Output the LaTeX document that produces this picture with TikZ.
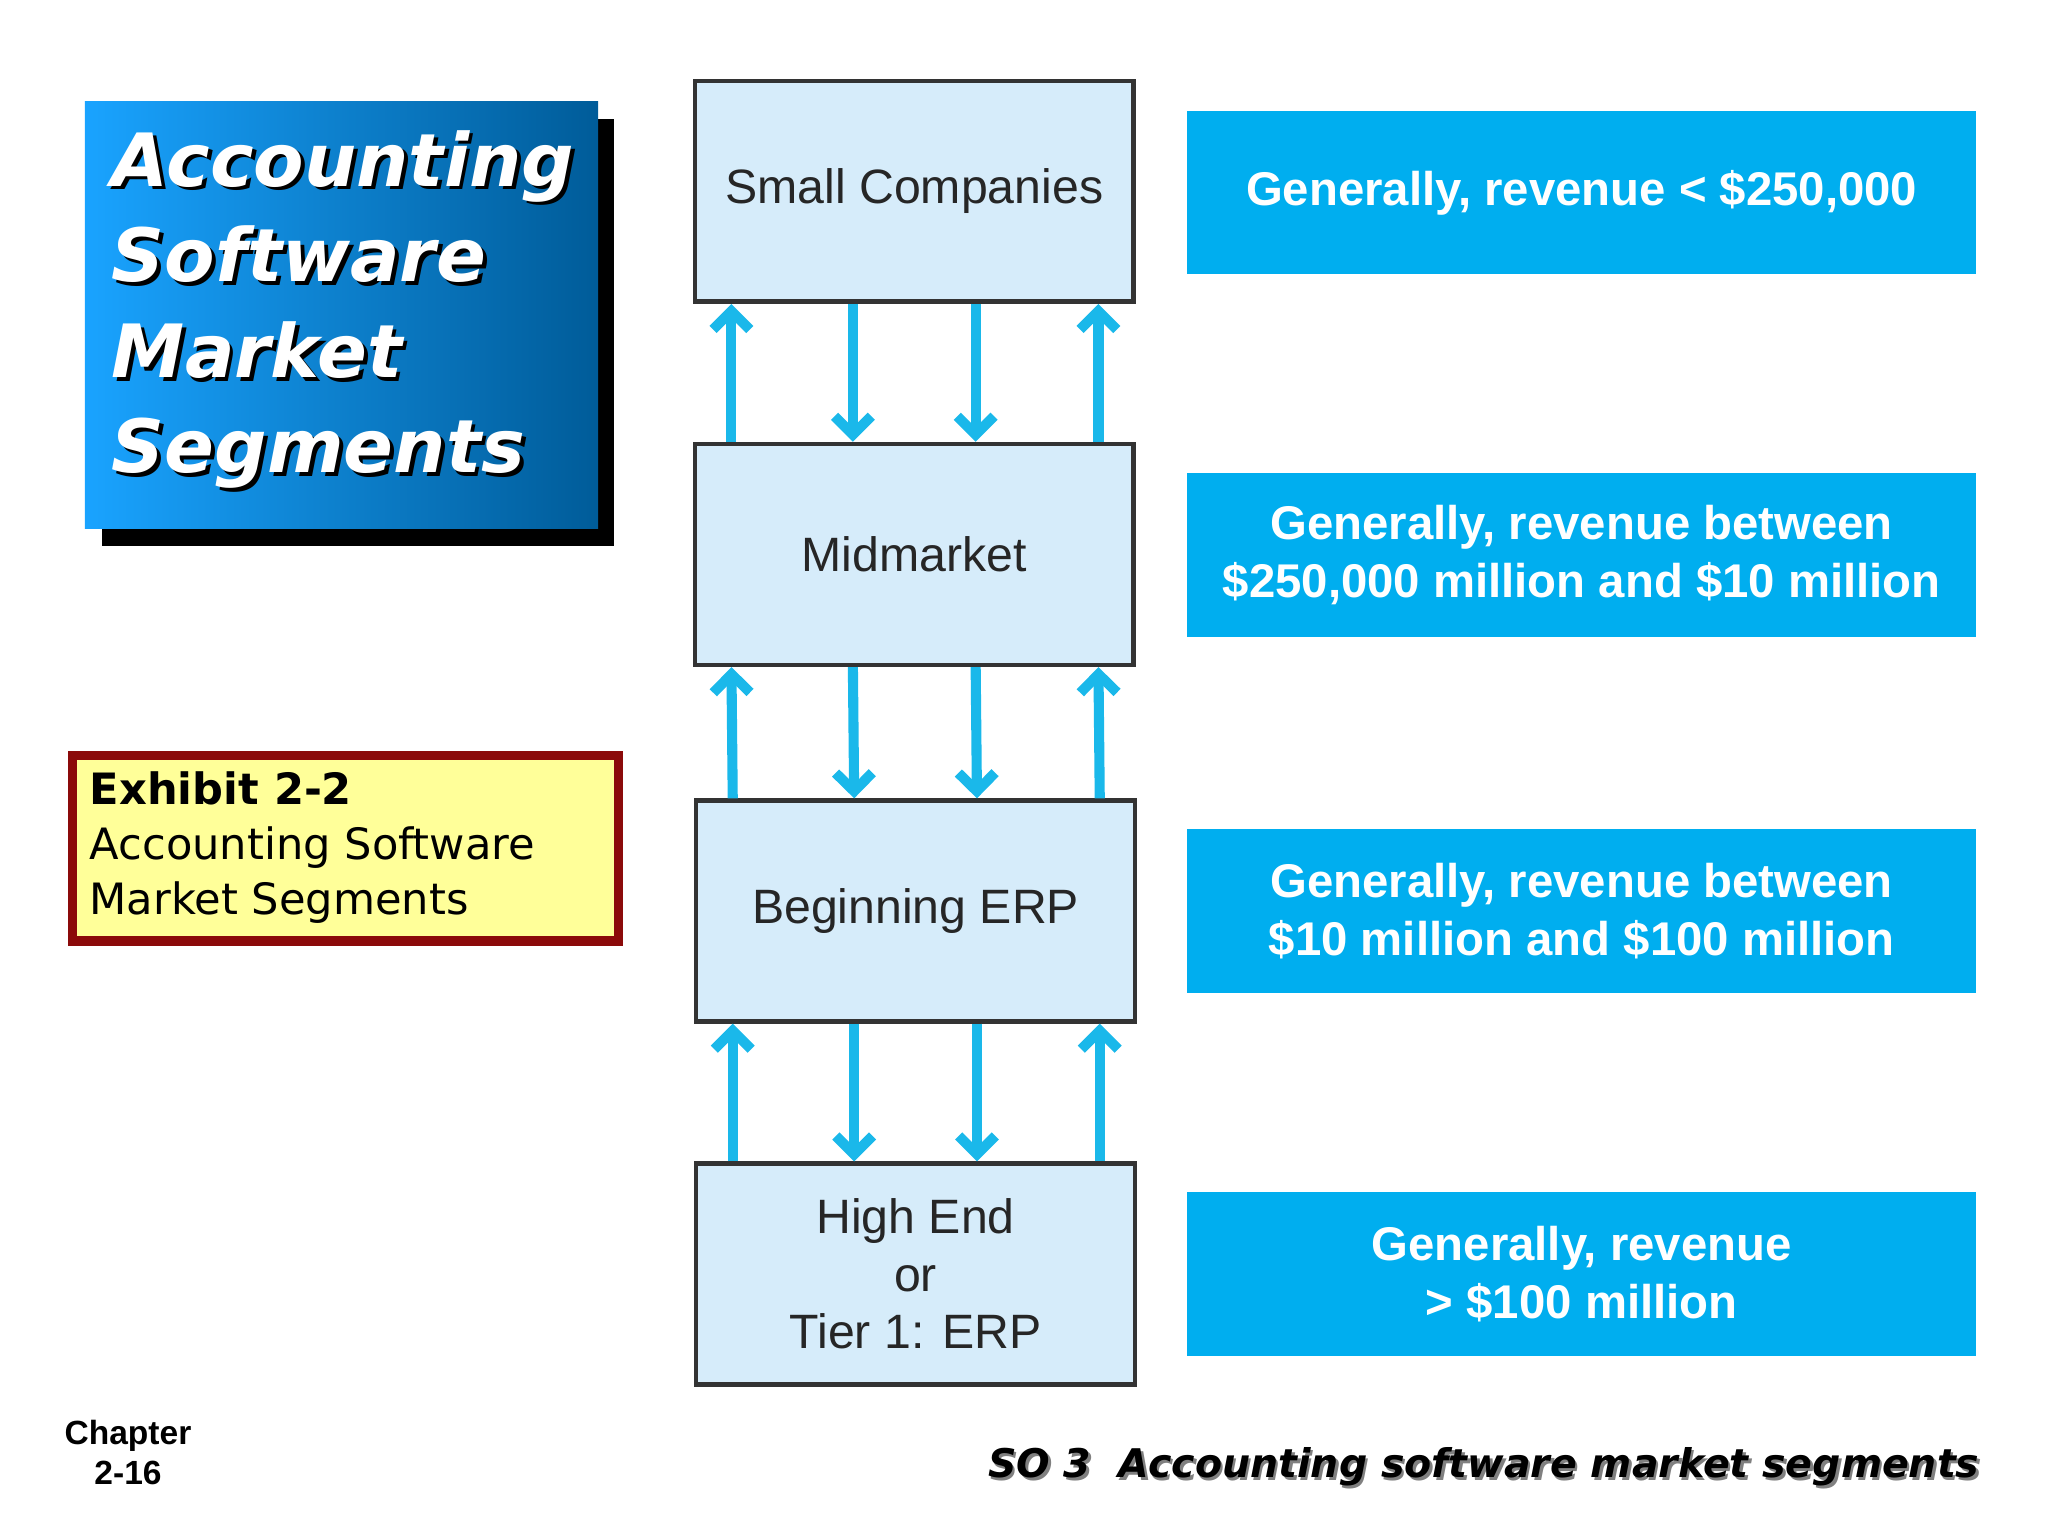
\documentclass[tikz,border=0pt]{standalone}
\usepackage{fontspec}
\setmainfont{Liberation Sans}
\newfontfamily\comic{DejaVu Sans}
\usetikzlibrary{arrows.meta}
\definecolor{seg}{HTML}{D6ECFA}
\definecolor{arr}{HTML}{1AB8EA}
\definecolor{rbox}{HTML}{00AEEF}
\definecolor{exb}{HTML}{FFFF99}
\definecolor{exr}{HTML}{8B0A0A}
\newlength{\pxu}\setlength{\pxu}{0.01cm}
\tikzset{
 segbox/.style={draw=black!80,line width=1pt,fill=seg,minimum width=336\pxu,minimum height=169\pxu,inner sep=1pt,align=center,font=\fontsize{10.5}{12.5}\selectfont,text=black!85},
 revbox/.style={fill=rbox,minimum width=604\pxu,minimum height=125\pxu,inner sep=1pt,align=center,text=white,font=\bfseries\fontsize{10.3}{12.5}\selectfont},
 upar/.style={draw=arr,line width=2.2pt,-{Straight Barb[length=4pt,width=8pt]}},
}
\begin{document}
\begin{tikzpicture}[x=0.01cm,y=-0.01cm]
\useasboundingbox (0,0) rectangle (1568,1176);
% title
\fill[black] (78,91) rectangle (470,418);
\shade[left color=cyan!60!blue!90!white,right color=blue!40!cyan!60!black] (65,78) rectangle (458,405);
\node[anchor=north west,align=left,font=\comic\bfseries\itshape\fontsize{16}{20.8}\selectfont,text=black,inner sep=0pt] (tsh) at (88,102) {Accounting\\Software\\Market\\Segments};
\node[anchor=north west,align=left,font=\comic\bfseries\itshape\fontsize{16}{20.8}\selectfont,text=white,inner sep=0pt] (title) at (85,99) {Accounting\\Software\\Market\\Segments};
% segments
\node[segbox] (s1) at (700,146.5) {Small Companies};
\node[segbox] (s2) at (700,424.5) {Midmarket};
\node[segbox] (s3) at (701,697.5) {Beginning ERP};
\node[segbox] (s4) at (701,975.5) {High End\\or\\Tier 1: ERP};
\foreach \a/\b in {s1/s2,s2/s3,s3/s4}{
 \draw[upar] ([xshift=-140\pxu]\b.north) -- ([xshift=-140\pxu]\a.south);
 \draw[upar] ([xshift=-47\pxu]\a.south) -- ([xshift=-47\pxu]\b.north);
 \draw[upar] ([xshift=47\pxu]\a.south) -- ([xshift=47\pxu]\b.north);
 \draw[upar] ([xshift=141\pxu]\b.north) -- ([xshift=141\pxu]\a.south);
}
% revenue
\node[revbox] (r1) at (1211,147.5) {Generally, revenue < \$250,000};
\node[revbox] (r2) at (1211,425) {Generally, revenue between\\\$250,000 million and \$10 million};
\node[revbox] (r3) at (1211,697.5) {Generally, revenue between\\\$10 million and \$100 million};
\node[revbox] (r4) at (1211,975.5) {Generally, revenue\\> \$100 million};
% exhibit
\node[draw=exr,line width=2pt,fill=exb,minimum width=418\pxu,minimum height=142\pxu,anchor=north west,inner sep=0pt] (ex) at (52,575) {};
\node[anchor=north west,align=left,font=\comic\fontsize{9.4}{12}\selectfont,inner sep=0pt] (ext) at (68,590) {\textbf{Exhibit 2-2}\\Accounting Software\\Market Segments};
% footer
\node[align=center,font=\bfseries\fontsize{7.3}{8.8}\selectfont] (ch) at (98,1112) {Chapter\\2-16};
\node[anchor=east,font=\comic\bfseries\itshape\fontsize{8.6}{10}\selectfont,text=black!50] (so2) at (1530,1125) {SO 3\ \ Accounting software market segments};
\node[anchor=east,font=\comic\bfseries\itshape\fontsize{8.6}{10}\selectfont] (so) at (1528,1123) {SO 3\ \ Accounting software market segments};
\end{tikzpicture}
\end{document}
